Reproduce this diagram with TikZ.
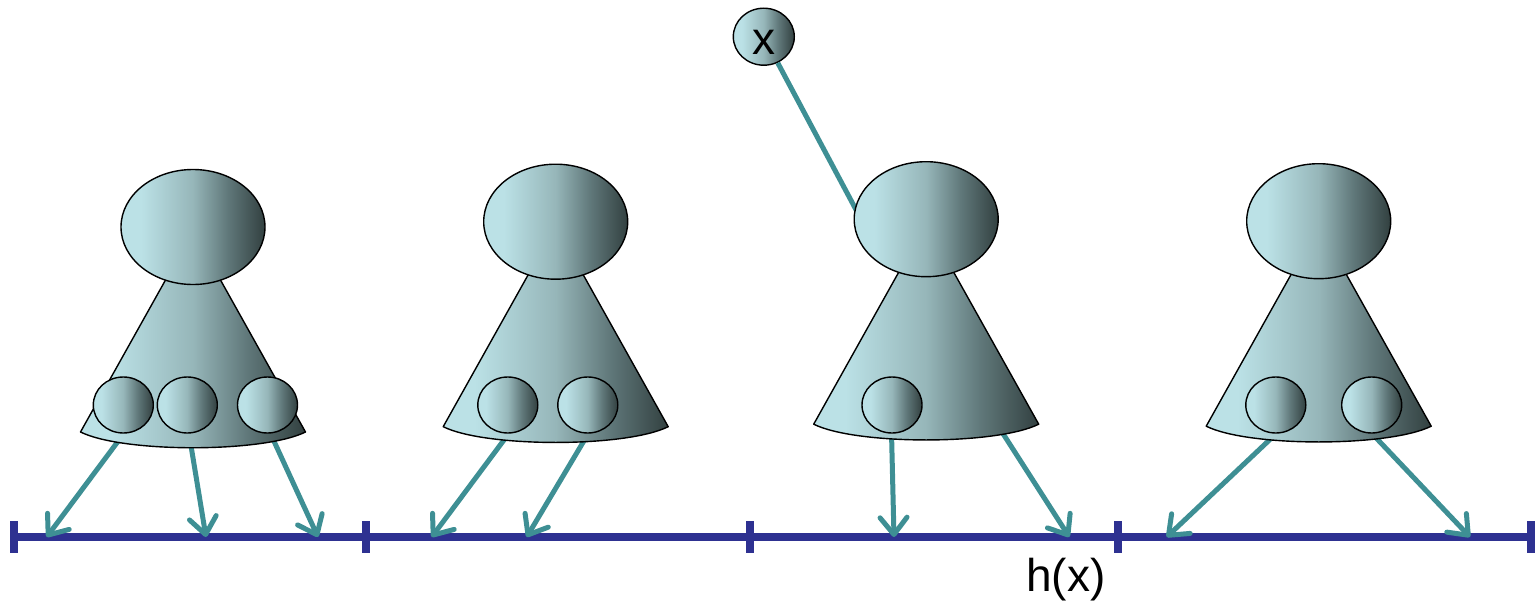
\documentclass[tikz,border=0pt]{standalone}
\usepackage{fontspec}
\setmainfont{Liberation Sans}
\usepackage{tikz}
\usetikzlibrary{shapes.geometric, arrows.meta}
\definecolor{pawnlight}{RGB}{187,225,230}
\definecolor{pawnmid}{RGB}{150,182,185}
\definecolor{pawnmdark}{RGB}{96,120,122}
\definecolor{pawndark}{RGB}{50,64,64}
\definecolor{hopteal}{RGB}{62,143,148}
\definecolor{lineblue}{RGB}{46,49,145}
\pgfdeclarehorizontalshading{pawnshade}{100bp}{color(0bp)=(pawnlight); color(32bp)=(pawnlight);
  color(50bp)=(pawnmid); color(62bp)=(pawnmdark); color(75bp)=(pawndark); color(100bp)=(pawndark)}

\begin{document}
\begin{tikzpicture}[x=1pt, y=-1pt, line join=round,
  pawnfill/.style = {shade, shading=pawnshade},
  pawnhead/.style = {draw, ellipse, pawnfill, line width=1.4pt, inner sep=0pt, minimum width=144pt, minimum height=115pt},
  pawnball/.style = {draw, ellipse, pawnfill, line width=1.4pt, inner sep=0pt, minimum width=60pt, minimum height=56pt},
  pawncone/.style = {draw, pawnfill, line width=1.4pt},
  hop/.style = {draw=hopteal, line width=5pt, -{Straight Barb[length=17pt, width=27pt, round]}},
  link/.style = {draw=hopteal, line width=5pt},
  axisline/.style = {draw=lineblue, line width=7.5pt},
  tick/.style = {draw=lineblue, line width=8pt},
  bigtext/.style = {font=\fontsize{46}{50}\selectfont, inner sep=0pt}]
\useasboundingbox (0,0) rectangle (1535,602);

\coordinate (axL) at (14,537);
\coordinate (axR) at (1531,537);
\draw[axisline] (axL) -- (axR);
\foreach \tx in {14,366,750,1118,1531}
  \draw[tick] (\tx,521) -- (\tx,553);

\node[pawnball, bigtext, minimum width=61pt, minimum height=57pt, text height=36.6pt, text depth=0pt] (xnode) at (763.8,36.7) {x};
\coordinate (xfoot) at (862,221);
\draw[link] (xnode) -- (xfoot);

\coordinate (s1a) at (122,436);
\coordinate (s1b) at (189.4,436);
\coordinate (s1c) at (271.6,436);
\coordinate (s2a) at (511.4,430);
\coordinate (s2b) at (590.4,430);
\coordinate (s3a) at (891.4,428);
\coordinate (s3b) at (999.4,428);
\coordinate (s4a) at (1280,430);
\coordinate (s4b) at (1368.6,430);
\coordinate (t1a) at (46.7,537);
\coordinate (t1b) at (206,537);
\coordinate (t1c) at (318,537);
\coordinate (t2a) at (431.7,537);
\coordinate (t2b) at (526.7,537);
\coordinate (t3a) at (894,537);
\coordinate (t3b) at (1069.3,537);
\coordinate (t4a) at (1166.7,537);
\coordinate (t4b) at (1470,537);
\draw[hop] (s1a) -- (t1a);
\draw[hop] (s1b) -- (t1b);
\draw[hop] (s1c) -- (t1c);
\draw[hop] (s2a) -- (t2a);
\draw[hop] (s2b) -- (t2b);
\draw[hop] (s3a) -- (t3a);
\draw[hop] (s3b) -- (t3b);
\draw[hop] (s4a) -- (t4a);
\draw[hop] (s4b) -- (t4b);

\foreach \cx/\cy/\n in {193/227/1, 555.7/221.7/2, 926.2/219.2/3, 1318.7/221.2/4} {
  \draw[pawncone] (\cx-23,\cy+45) -- (\cx-112.5,\cy+205)
    .. controls (\cx-70,\cy+226) and (\cx+70,\cy+226) .. (\cx+112.5,\cy+205)
    -- (\cx+23,\cy+45) -- cycle;
  \node[pawnhead] (head\n) at (\cx,\cy) {};
}

\node[pawnball] (ball1a) at (123.3,405) {};
\node[pawnball] (ball1b) at (187.3,405) {};
\node[pawnball] (ball1c) at (267.5,405) {};
\node[pawnball] (ball2a) at (507.8,405) {};
\node[pawnball] (ball2b) at (587.8,405) {};
\node[pawnball] (ball3a) at (892,405) {};
\node[pawnball] (ball4a) at (1275.8,405) {};
\node[pawnball] (ball4b) at (1371.7,405) {};

\node[bigtext, anchor=base] (hx) at (1066,591) {h(x)};
\end{tikzpicture}
\end{document}
